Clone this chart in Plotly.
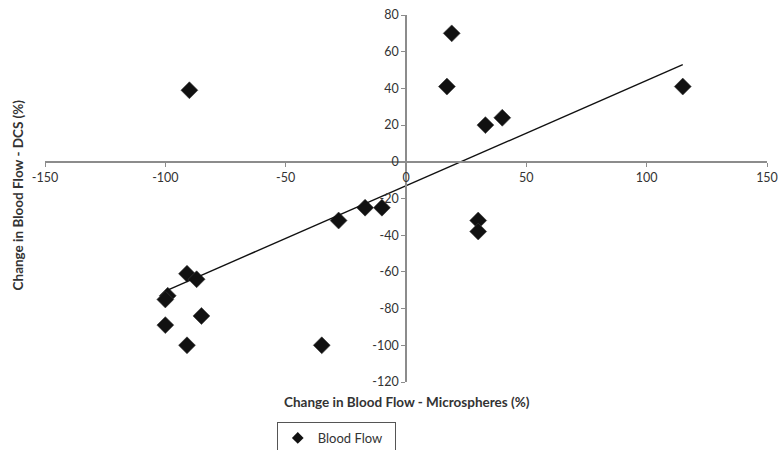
import numpy as np
import plotly.graph_objects as go

# Data
micro = [-90, 19, 17, 33, 40, 115, -28, -17, -10, -91, -87, -99, -100, -100, -85, -91, -35, 30, 30]
dcs = [39, 70, 41, 20, 24, 41, -32, -25, -25, -61, -64, -73, -75, -89, -84, -100, -100, -32, -38]

x_ticks = [-150, -100, -50, 0, 50, 100, 150]
x_tick_labels = ["-150", "-100", "-50", "0", "50", "100", "150"]
y_ticks = [-120, -100, -80, -60, -40, -20, 0, 20, 40, 60, 80]
y_tick_labels = ["-120", "-100", "-80", "-60", "-40", "-20", "0", "20", "40", "60", "80"]

# Linear trendline fitted to the data
slope, intercept = np.polyfit(micro, dcs, 1)
trend_x = [min(micro), max(micro)]
trend_y = [slope * v + intercept for v in trend_x]

FONT = "Lato, 'Open Sans', sans-serif"
TXT = "#333333"
AX = "#8c8c8c"

fig = go.Figure()
fig.add_trace(go.Scatter(
    x=micro, y=dcs, mode="markers", name="Blood Flow", showlegend=False,
    marker=dict(symbol="diamond", size=13, color="#111111",
                line=dict(color="rgba(60,60,60,0.6)", width=1)),
))
fig.add_trace(go.Scatter(
    x=trend_x, y=trend_y, mode="lines", showlegend=False,
    line=dict(color="#111111", width=1.4), hoverinfo="skip",
))
# legend entry (smaller symbol, as in the reference)
fig.add_trace(go.Scatter(
    x=[None], y=[None], mode="markers", name="Blood Flow", showlegend=True,
    marker=dict(symbol="diamond", size=9, color="#111111"),
))

fig.update_layout(
    width=779, height=450,
    margin=dict(l=45, r=12, t=15, b=68, autoexpand=False),
    paper_bgcolor="white", plot_bgcolor="white",
    font=dict(family=FONT, size=13, color=TXT),
    showlegend=True,
    legend=dict(x=0.321, xanchor="left", y=-0.109, yanchor="top",
                orientation="h",
                bordercolor="#555555", borderwidth=1,
                entrywidth=72, entrywidthmode="pixels",
                font=dict(family=FONT, size=13, color=TXT),
                bgcolor="white"),
    xaxis=dict(range=[-150, 150], tickvals=x_ticks, ticktext=x_tick_labels,
               anchor="free", position=0.6, ticklabeloverflow="allow",
               showline=True, linecolor=AX, linewidth=1.5, ticks="outside",
               ticklen=4, tickcolor=AX, showgrid=False, zeroline=False,
               tickfont=dict(family=FONT, size=12.5, color=TXT)),
    yaxis=dict(range=[-120, 80], tickvals=y_ticks, ticktext=y_tick_labels,
               anchor="free", position=0.5, ticklabeloverflow="allow",
               showline=True, linecolor=AX, linewidth=1.5, ticks="outside",
               ticklen=4, tickcolor=AX, showgrid=False, zeroline=False,
               tickfont=dict(family=FONT, size=12.5, color=TXT)),
    annotations=[
        dict(text="<b>Change in Blood Flow - Microspheres (%)</b>", xref="paper", yref="paper",
             x=0.501, y=-0.0545, xanchor="center", yanchor="middle", showarrow=False,
             font=dict(family=FONT, size=13.5, color=TXT)),
        dict(text="<b>Change in Blood Flow - DCS (%)</b>", xref="paper", yref="paper",
             x=-0.038, y=0.51, xanchor="center", yanchor="middle", showarrow=False,
             textangle=-90, font=dict(family=FONT, size=13.5, color=TXT)),
    ],
)

# remove the default page margin so the figure fills the window exactly
fig.write_html("out.html", config={"displayModeBar": False},
               post_script="document.body.style.margin='0';")
